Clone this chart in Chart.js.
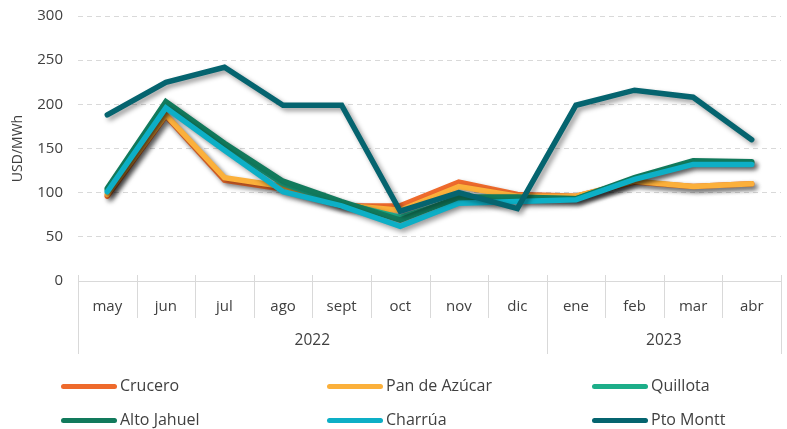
<!DOCTYPE html>
<html>
<head>
<meta charset="utf-8">
<script src="https://cdn.jsdelivr.net/npm/chart.js@4.4.0/dist/chart.umd.min.js"></script>
<style>
  html, body { margin: 0; padding: 0; background: #fff; }
  #wrap { position: relative; width: 787px; height: 429px; }
  #grafico { position: absolute; left: 0; top: 0; }
  .leg-item { position: absolute; height: 20px; font-family: "Open Sans", sans-serif; font-size: 16px; color: #404040; white-space: nowrap; }
  .leg-item span.sw { position: absolute; left: 0; top: 8px; width: 56px; height: 5px; border-radius: 3px; }
  .leg-item span.tx { position: absolute; left: 59px; top: -2px; line-height: 22px; }
</style>
</head>
<body>
<div id="wrap">
  <canvas id="grafico" width="787" height="429"></canvas>
  <div id="legenda"></div>
</div>
<script>
// dados
const meses = ['may', 'jun', 'jul', 'ago', 'sept', 'oct', 'nov', 'dic', 'ene', 'feb', 'mar', 'abr'];
const anos = ['2022', '2023'];
const mesesPorAno = [8, 4];
const yTicks = [0, 50, 100, 150, 200, 250, 300];

const crucero    = [96, 187, 114, 104, 85, 85, 112, 98, 96, 112, 107, 110];
const panAzucar  = [98, 188, 117, 107, 86, 80, 107, 96, 96, 113, 107, 110];
const quillota   = [103, 200, 153, 110, 88, 72, 93, 94, 93, 116, 134, 134];
const altoJahuel = [105, 203, 156, 113, 90, 69, 95, 95, 93, 117, 136, 135];
const charrua    = [101, 196, 148, 101, 85, 62, 88, 90, 92, 115, 132, 132];
const ptoMontt   = [188, 225, 242, 199, 199, 79, 100, 82, 199, 216, 208, 160];

const series = [
    { nome: 'Crucero', dados: crucero, cor: '#EE6A2C' },
    { nome: 'Pan de Azúcar', dados: panAzucar, cor: '#FBB03B' },
    { nome: 'Quillota', dados: quillota, cor: '#1DAE89' },
    { nome: 'Alto Jahuel', dados: altoJahuel, cor: '#127A5C' },
    { nome: 'Charrúa', dados: charrua, cor: '#0DAFC6' },
    { nome: 'Pto Montt', dados: ptoMontt, cor: '#05646F' }
];

const corTexto = '#404040';
const corLinha = '#d9d9d9';

// sombra das linhas
const sombraPlugin = {
    id: 'sombra',
    beforeDatasetDraw: (chart) => {
        const ctx = chart.ctx;
        ctx.save();
        ctx.shadowColor = 'rgba(0,0,0,0.4)';
        ctx.shadowBlur = 5;
        ctx.shadowOffsetX = 3;
        ctx.shadowOffsetY = 3;
    },
    afterDatasetDraw: (chart) => {
        chart.ctx.restore();
    }
};

// separadores do eixo x e linha dos anos
const eixoAnosPlugin = {
    id: 'eixoAnos',
    afterDraw: (chart) => {
        const { ctx, scales: { x } } = chart;
        const passo = (x.right - x.left) / meses.length;
        const base = x.top;
        const limitesAno = [0];
        mesesPorAno.reduce((acc, n) => { limitesAno.push(acc + n); return acc + n; }, 0);

        ctx.save();
        ctx.strokeStyle = corLinha;
        ctx.lineWidth = 1;
        for (let i = 0; i <= meses.length; i++) {
            const px = Math.round(x.left + i * passo) + 0.5;
            const fim = limitesAno.includes(i) ? base + 73 : base + 37;
            ctx.beginPath();
            ctx.moveTo(px, base - 6);
            ctx.lineTo(px, fim);
            ctx.stroke();
        }
        ctx.fillStyle = corTexto;
        ctx.font = '15.5px "Open Sans", sans-serif';
        ctx.textAlign = 'center';
        ctx.textBaseline = 'middle';
        anos.forEach((ano, i) => {
            const ini = limitesAno[i], fimA = limitesAno[i + 1];
            const cx = x.left + (ini + fimA) / 2 * passo;
            ctx.fillText(ano, cx, base + 60);
        });
        ctx.restore();
    }
};

const ctx = document.getElementById('grafico').getContext('2d');
new Chart(ctx, {
    type: 'line',
    data: {
        labels: meses,
        datasets: series.map((s, i) => ({
            label: s.nome,
            data: s.dados,
            borderColor: s.cor,
            backgroundColor: s.cor,
            borderWidth: 5.5,
            borderCapStyle: 'round',
            borderJoinStyle: 'miter',
            pointRadius: 0,
            tension: 0,
            order: series.length - i
        }))
    },
    options: {
        responsive: false,
        animation: false,
        layout: { padding: { top: 16, right: 6, bottom: 64, left: 0 } },
        plugins: {
            legend: { display: false },
            tooltip: { enabled: false }
        },
        scales: {
            x: {
                offset: true,
                grid: { display: false },
                border: { display: true, color: corLinha, width: 1 },
                ticks: { color: corTexto, font: { family: 'Open Sans', size: 15 }, padding: 9, maxRotation: 0 },
                afterFit: (scale) => { scale.height = 84; }
            },
            y: {
                min: 0,
                max: 300,
                afterBuildTicks: (scale) => { scale.ticks = yTicks.map(v => ({ value: v })); },
                grid: { color: corLinha, lineWidth: 1, drawTicks: false, tickLength: 0 },
                border: { display: false, dash: [5, 4] },
                ticks: { color: corTexto, font: { family: 'Open Sans', size: 15 }, padding: 15 },
                title: {
                    display: true,
                    text: 'USD/MWh',
                    color: corTexto,
                    font: { family: 'Open Sans', size: 14 },
                    padding: { top: 10, bottom: 0 }
                },
                afterFit: (scale) => {
                    scale.width = 78;
                    scale.paddingTop = 0;
                    scale.paddingBottom = 0;
                }
            }
        }
    },
    plugins: [sombraPlugin, eixoAnosPlugin]
});

// legenda em html, 3 colunas
const legenda = document.getElementById('legenda');
const colunasX = [61, 327, 592];
const linhasY = [376, 410];
series.forEach((s, i) => {
    const item = document.createElement('div');
    item.className = 'leg-item';
    item.style.left = colunasX[i % 3] + 'px';
    item.style.top = linhasY[Math.floor(i / 3)] + 'px';
    item.innerHTML = `<span class="sw" style="background:${s.cor}"></span><span class="tx">${s.nome}</span>`;
    legenda.appendChild(item);
});
</script>
</body>
</html>
